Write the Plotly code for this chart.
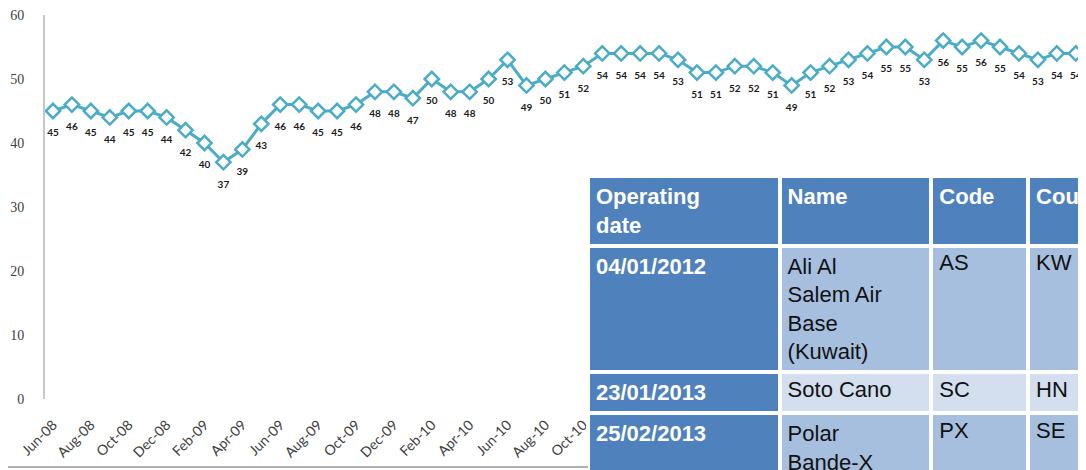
import plotly.graph_objects as go
import pandas as pd

# the page body adds an 8px margin, so the figure is sized to fill the rest of the window
W, H = 1078, 462
OFF = 8


def px_x(x):
    return (x - OFF) / W


def px_y(y):
    return 1 - (y - OFF) / H


# monthly series, Jun-08 .. Dec-12
months = pd.date_range("2008-06-01", "2012-12-01", freq="MS").strftime("%b-%y").tolist()
values = [
    45, 46, 45, 44, 45, 45, 44,
    42, 40, 37, 39, 43, 46, 46, 45, 45, 46, 48, 48,
    47, 50, 48, 48, 50, 53, 49, 50, 51, 52, 54, 54,
    54, 54, 53, 51, 51, 52, 52, 51, 49, 51, 52, 53,
    54, 55, 55, 53, 56, 55, 56, 55, 54, 53, 54, 54,
]
tick_labels = months[::2]

# overlaid table
table_header = ["<b>Operating<br>date</b>", "<b>Name</b>", "<b>Code</b>", "<b>Country</b>"]
op_dates = ["<b>04/01/2012</b>", "<b>23/01/2013</b>", "<b>25/02/2013</b>"]
names = ["Ali Al<br>Salem Air<br>Base<br>(Kuwait)", "Soto Cano", "Polar<br>Bande-X"]
codes = ["AS", "SC", "PX"]
countries = ["KW", "HN", "SE"]

teal = "#4bacc6"
dark_blue = "#4f81bd"
light_blue = ["#a7bfde", "#d3dfee", "#a7bfde"]

fig = go.Figure()

fig.add_trace(go.Scatter(
    x=months, y=values,
    mode="lines+markers",
    line=dict(color=teal, width=3),
    marker=dict(symbol="diamond", size=11, color="white",
                line=dict(color=teal, width=2.5)),
    cliponaxis=False,
    showlegend=False
))

# data labels under each point
fig.add_trace(go.Scatter(
    x=months, y=values,
    mode="markers+text",
    text=values,
    textposition="bottom center",
    textfont=dict(family="Lato", size=10, color="#1a1a1a", weight="bold"),
    marker=dict(size=27, opacity=0),
    hoverinfo="skip",
    cliponaxis=False,
    showlegend=False
))

fig.add_trace(go.Table(
    domain=dict(x=[px_x(588), 1], y=[0, px_y(176)]),
    columnwidth=[192, 152, 97, 57],
    header=dict(
        values=table_header,
        fill_color=dark_blue,
        line=dict(color="white", width=4),
        font=dict(family="Liberation Sans", size=22, color="white"),
        align="left",
        height=60
    ),
    cells=dict(
        values=[op_dates, names, codes, countries],
        fill_color=[[dark_blue] * 3, light_blue, light_blue, light_blue],
        line=dict(color="white", width=4),
        font=dict(family="Liberation Sans", size=22,
                  color=["white", "#111111", "#111111", "#111111"]),
        align="left",
        height=31
    )
))

fig.update_layout(
    width=W, height=H,
    margin=dict(l=0, r=0, t=0, b=0),
    paper_bgcolor="white",
    plot_bgcolor="white",
    showlegend=False,
    xaxis=dict(
        type="category",
        domain=[px_x(45), 1],
        range=[-0.42, 54.54],
        tickmode="array",
        tickvals=tick_labels,
        ticktext=tick_labels,
        tickangle=-45,
        tickfont=dict(family="Lato", size=14, color="#404040"),
        ticklabelstandoff=14,
        showgrid=False, zeroline=False, showline=False,
        automargin=False
    ),
    yaxis=dict(
        domain=[px_y(399), px_y(15)],
        range=[0, 60],
        dtick=10,
        tickfont=dict(family="Liberation Serif", size=14, color="#404040"),
        ticklabelstandoff=16,
        ticklabeloverflow="allow",
        showgrid=False, zeroline=False,
        showline=True, linecolor="#c8c8c8", linewidth=2,
        automargin=False
    ),
    shapes=[
        # bottom edge of the cropped screenshot frame
        dict(type="line", xref="paper", yref="paper", x0=0, x1=px_x(588),
             y0=px_y(467), y1=px_y(467), line=dict(color="#b0b0b0", width=2)),
    ]
)

fig.write_html("out.html")
